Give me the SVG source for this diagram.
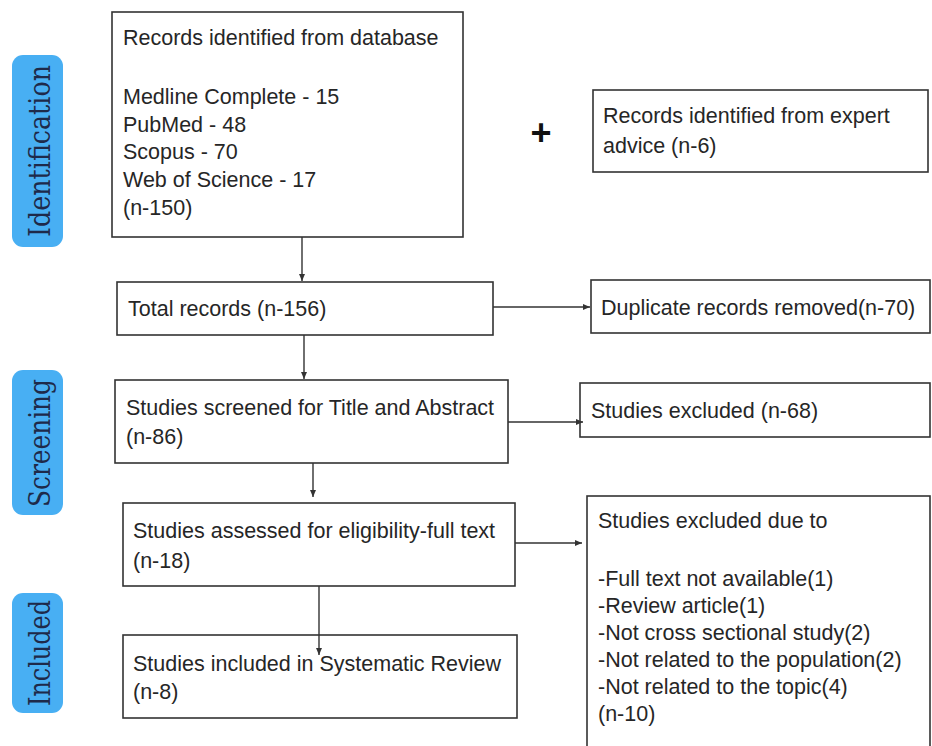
<svg xmlns="http://www.w3.org/2000/svg" width="932" height="746" viewBox="0 0 932 746">
<style>
.box{fill:#fff;stroke:#333;stroke-width:1.6}
.t{font-family:"Liberation Sans",Arial,sans-serif;font-size:21.5px;fill:#262626}
.pill{fill:#48aff3}
.pt{font-family:"DejaVu Serif","Liberation Serif",serif;font-size:30px;fill:#1e2a4a;text-anchor:middle}
.c{stroke:#333;stroke-width:1.4;fill:none;marker-end:url(#ah)}
</style>
<defs>
<marker id="ah" markerWidth="8" markerHeight="8" refX="7" refY="4" orient="auto" markerUnits="userSpaceOnUse">
<path d="M0,1 L7,4 L0,7 Z" fill="#333"/>
</marker>
</defs>
<rect width="932" height="746" fill="#fff"/>
<g id="phase-identification">
<rect class="pill" x="12" y="55" width="51" height="192" rx="11"/>
<text class="pt" transform="translate(50,151) rotate(-90)" textLength="172" lengthAdjust="spacingAndGlyphs">Identification</text>
</g>
<g id="phase-screening">
<rect class="pill" x="12" y="370" width="51" height="145" rx="11"/>
<text class="pt" transform="translate(50,443) rotate(-90)" textLength="128" lengthAdjust="spacingAndGlyphs">Screening</text>
</g>
<g id="phase-included">
<rect class="pill" x="12" y="593" width="51" height="120" rx="11"/>
<text class="pt" transform="translate(50,653) rotate(-90)" textLength="106" lengthAdjust="spacingAndGlyphs">Included</text>
</g>
<g id="records-database">
<rect class="box" x="112" y="12" width="351" height="225"/>
<text class="t" x="123" y="45">Records identified from database</text>
<text class="t" x="123" y="104">Medline Complete - 15</text>
<text class="t" x="123" y="132">PubMed - 48</text>
<text class="t" x="123" y="159">Scopus - 70</text>
<text class="t" x="123" y="187">Web of Science - 17</text>
<text class="t" x="123" y="215">(n-150)</text>
</g>
<g id="plus">
<text x="541" y="145" font-family="Liberation Sans,Arial,sans-serif" font-size="36" font-weight="bold" fill="#111" text-anchor="middle">+</text>
</g>
<g id="records-expert">
<rect class="box" x="593" y="90" width="335" height="82"/>
<text class="t" x="603" y="123">Records identified from expert</text>
<text class="t" x="603" y="153">advice (n-6)</text>
</g>
<g id="total-records">
<rect class="box" x="117" y="282" width="376" height="53"/>
<text class="t" x="128" y="316">Total records (n-156)</text>
</g>
<g id="duplicates">
<rect class="box" x="591" y="280" width="339" height="53"/>
<text class="t" x="601" y="315">Duplicate records removed(n-70)</text>
</g>
<g id="screened">
<rect class="box" x="115" y="380" width="393" height="83"/>
<text class="t" x="126" y="415">Studies screened for Title and Abstract</text>
<text class="t" x="126" y="444">(n-86)</text>
</g>
<g id="excluded">
<rect class="box" x="580" y="383" width="350" height="54"/>
<text class="t" x="591" y="418">Studies excluded (n-68)</text>
</g>
<g id="assessed">
<rect class="box" x="123" y="503" width="392" height="83"/>
<text class="t" x="133" y="538">Studies assessed for eligibility-full text</text>
<text class="t" x="133" y="568">(n-18)</text>
</g>
<g id="excluded-reasons">
<rect class="box" x="587" y="496" width="343" height="260"/>
<text class="t" x="598" y="528">Studies excluded due to</text>
<text class="t" x="598" y="586">-Full text not available(1)</text>
<text class="t" x="598" y="613">-Review article(1)</text>
<text class="t" x="598" y="640">-Not cross sectional study(2)</text>
<text class="t" x="598" y="667">-Not related to the population(2)</text>
<text class="t" x="598" y="694">-Not related to the topic(4)</text>
<text class="t" x="598" y="721">(n-10)</text>
</g>
<g id="included">
<rect class="box" x="123" y="635" width="394" height="83"/>
<text class="t" x="133" y="671">Studies included in Systematic Review</text>
<text class="t" x="133" y="699">(n-8)</text>
</g>
<g id="connectors">
<line class="c" x1="302" y1="237" x2="302" y2="281"/>
<line class="c" x1="493" y1="307" x2="590" y2="307"/>
<line class="c" x1="304" y1="335" x2="304" y2="379"/>
<line class="c" x1="508" y1="422" x2="583" y2="422"/>
<line class="c" x1="313" y1="463" x2="313" y2="497"/>
<line class="c" x1="515" y1="543" x2="582" y2="543"/>
<line class="c" x1="319" y1="586" x2="319" y2="655"/>
</g>
</svg>
